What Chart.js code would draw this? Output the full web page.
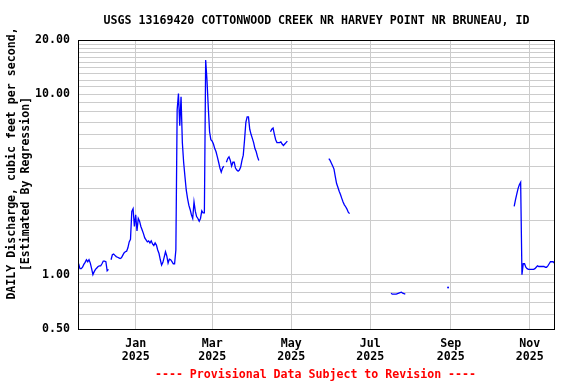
<!DOCTYPE html>
<html lang="en">
<head>
    <meta charset="UTF-8">
    <title>USGS 13169420 Cottonwood Creek</title>
    <script src="https://cdn.jsdelivr.net/npm/chart.js"></script>
    <style>
        body { margin: 0; background: #ffffff; }
        canvas { display: block; }
    </style>
</head>
<body>
    <canvas id="flowChart" width="576" height="384"></canvas>

    <script>
        // first day shown on the x axis
        const startDate = '2024-11-18';

        // daily flow in cfs, one array per unbroken run of record
        const segStarts = ['2024-11-18', '2024-12-13', '2025-03-12', '2025-04-15',
                           '2025-05-30', '2025-07-17', '2025-08-30', '2025-10-20'];
        const segFlows = [
            [1.15, 1.08, 1.08, 1.10, 1.14, 1.17, 1.21, 1.18, 1.21, 1.16, 1.08, 1.00,
             1.04, 1.07, 1.09, 1.11, 1.12, 1.12, 1.15, 1.19, 1.19, 1.18, 1.05, 1.07],
            [1.21, 1.29, 1.30, 1.28, 1.26, 1.25, 1.24, 1.23, 1.24, 1.28,
             1.32, 1.34, 1.35, 1.41, 1.52, 1.57, 2.24, 2.32, 1.85, 2.15,
             1.75, 2.05, 1.98, 1.85, 1.77, 1.69, 1.60, 1.56, 1.52, 1.54,
             1.50, 1.54, 1.48, 1.45, 1.50, 1.46, 1.37, 1.31, 1.21, 1.13,
             1.17, 1.25, 1.34, 1.27, 1.16, 1.22, 1.21, 1.18, 1.15, 1.15,
             1.37, 8.2, 10.1, 6.7, 9.7, 5.4, 4.2, 3.5, 2.95, 2.65,
             2.43, 2.3, 2.15, 2.05, 2.53, 2.25, 2.1, 2.05, 1.98, 2.05,
             2.26, 2.2, 2.2, 15.5, 12.0, 8.5, 6.2, 5.6, 5.5, 5.3,
             5.0, 4.8, 4.5, 4.2, 3.9, 3.7, 3.9, 4.0],
            [4.2, 4.4, 4.5, 4.3, 4.0, 4.2, 4.2, 3.9, 3.8, 3.75, 3.8, 3.95, 4.3,
             4.6, 5.6, 7.0, 7.5, 7.5, 6.4, 6.0, 5.7, 5.4, 5.0, 4.8, 4.5, 4.3],
            [6.2, 6.4, 6.5, 6.0, 5.6, 5.4, 5.4, 5.4, 5.45, 5.3, 5.2, 5.3, 5.4, 5.5],
            [4.4, 4.3, 4.15, 4.0, 3.85, 3.5, 3.2, 3.05, 2.9, 2.78, 2.65, 2.53,
             2.44, 2.38, 2.31, 2.22, 2.18],
            [0.79, 0.78, 0.78, 0.78, 0.78, 0.785, 0.79, 0.795, 0.80, 0.79, 0.785, 0.78],
            [0.85],
            [2.39, 2.6, 2.8, 3.0, 3.15, 3.25, 1.0, 1.15, 1.15, 1.10, 1.08, 1.07,
             1.07, 1.07, 1.07, 1.07, 1.08, 1.10, 1.12, 1.11, 1.11, 1.11, 1.11, 1.11,
             1.10, 1.10, 1.12, 1.15, 1.18, 1.18, 1.18, 1.16]
        ];

        // x axis ticks
        const tickDates = ['2025-01-01', '2025-03-01', '2025-05-01', '2025-07-01', '2025-09-01', '2025-11-01'];
        const tickMonths = ['Jan', 'Mar', 'May', 'Jul', 'Sep', 'Nov'];
        const tickYears = ['2025', '2025', '2025', '2025', '2025', '2025'];

        // y axis grid lines and labelled values
        const yGridValues = [0.5, 0.6, 0.7, 0.8, 0.9, 1, 2, 3, 4, 5, 6, 7, 8, 9,
                             10, 11, 12, 13, 14, 15, 16, 17, 18, 19, 20];
        const yLabelValues = [0.5, 1, 10, 20];

        const titleText = 'USGS 13169420 COTTONWOOD CREEK NR HARVEY POINT NR BRUNEAU, ID';
        const yTitleLines = ['DAILY Discharge, cubic feet per second,', '[Estimated By Regression]'];
        const noteText = '---- Provisional Data Subject to Revision ----';

        const FONT = 'bold 11.6px "DejaVu Sans Mono"';

        function dayIndex(iso) {
            return Math.round((Date.parse(iso) - Date.parse(startDate)) / 86400000);
        }

        const points = [];
        segStarts.forEach((s, k) => {
            const d0 = dayIndex(s);
            segFlows[k].forEach((v, j) => points.push({ x: d0 + j, y: v }));
            points.push({ x: d0 + segFlows[k].length, y: null });  // break the line
        });

        const tickDays = tickDates.map(dayIndex);

        // draw a dot for a day that has no neighbours
        function loneRadius(ctx) {
            const d = ctx.dataset.data;
            const i = ctx.dataIndex;
            const prev = d[i - 1], next = d[i + 1];
            if (d[i].y == null) return 0;
            return ((!prev || prev.y == null) && (!next || next.y == null)) ? 1 : 0;
        }

        const decorations = {
            id: 'decorations',
            afterDraw(chart) {
                const { ctx, chartArea: a } = chart;
                ctx.save();
                ctx.strokeStyle = '#000000';
                ctx.lineWidth = 1;
                ctx.strokeRect(a.left + 0.5, a.top + 0.5, a.right - a.left - 1, a.bottom - a.top);

                ctx.font = FONT;
                ctx.fillStyle = '#000000';
                ctx.textAlign = 'center';
                ctx.textBaseline = 'middle';
                ctx.fillText(titleText, (a.left + a.right) / 2, 21);

                ctx.save();
                ctx.translate(12, 163.5);
                ctx.rotate(-Math.PI / 2);
                ctx.fillText(yTitleLines[0], 0, 0);
                ctx.restore();
                ctx.save();
                ctx.translate(26, 184);
                ctx.rotate(-Math.PI / 2);
                ctx.fillText(yTitleLines[1], 0, 0);
                ctx.restore();

                ctx.fillStyle = '#ff0000';
                ctx.fillText(noteText, 315.5, 375);
                ctx.restore();
            }
        };

        new Chart(document.getElementById('flowChart').getContext('2d'), {
            type: 'line',
            data: {
                datasets: [{
                    data: points,
                    borderColor: '#0000ff',
                    backgroundColor: '#0000ff',
                    borderWidth: 1.3,
                    pointRadius: loneRadius,
                    pointBorderWidth: 0,
                    pointHoverRadius: 0,
                    tension: 0,
                    spanGaps: false
                }]
            },
            options: {
                responsive: false,
                animation: false,
                layout: { padding: { top: 40, right: 21, left: 0, bottom: 0 } },
                plugins: {
                    legend: { display: false },
                    tooltip: { enabled: false }
                },
                scales: {
                    x: {
                        type: 'linear',
                        min: -0.5,
                        max: 367.5,
                        afterBuildTicks: (scale) => {
                            scale.ticks = tickDays.map(v => ({ value: v }));
                        },
                        afterFit: (scale) => { scale.height = 55; },
                        border: { display: false },
                        grid: { color: '#cccccc', drawTicks: false },
                        ticks: {
                            autoSkip: false,
                            maxRotation: 0,
                            padding: 8,
                            color: '#000000',
                            font: { family: 'DejaVu Sans Mono', size: 11.6, weight: 'bold', lineHeight: 1.12 },
                            callback: (v, i) => [tickMonths[i], tickYears[i]]
                        }
                    },
                    y: {
                        type: 'logarithmic',
                        min: 0.5,
                        max: 20,
                        afterBuildTicks: (scale) => {
                            scale.ticks = yGridValues.map(v => ({ value: v }));
                        },
                        afterFit: (scale) => { scale.width = 78; },
                        border: { display: false },
                        grid: { color: '#cccccc', drawTicks: false },
                        ticks: {
                            autoSkip: false,
                            padding: 8,
                            color: '#000000',
                            font: { family: 'DejaVu Sans Mono', size: 11.6, weight: 'bold' },
                            callback: (v) => yLabelValues.includes(v) ? v.toFixed(2) : ''
                        }
                    }
                }
            },
            plugins: [decorations]
        });
    </script>
</body>
</html>
